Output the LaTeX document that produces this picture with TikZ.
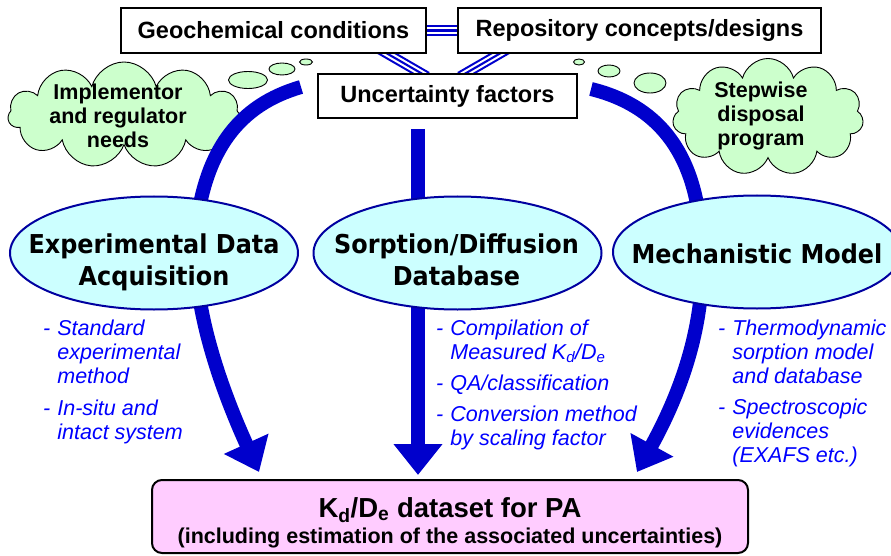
\documentclass[tikz,border=0pt]{standalone}
\usepackage{fontspec}
\setmainfont{Liberation Sans}
\newfontfamily\ellfont[FakeStretch = 0.92]{DejaVu Sans}
\usetikzlibrary{shapes.geometric, shapes.symbols, arrows.meta, backgrounds}
\definecolor{arrowblue}{RGB}{0,0,204}
\definecolor{rimblue}{RGB}{0,0,160}
\definecolor{noteblue}{RGB}{0,0,255}
\definecolor{cyanfill}{RGB}{204,255,255}
\definecolor{cloudfill}{RGB}{204,255,204}
\definecolor{pinkfill}{RGB}{255,204,255}
\tikzset{box/.style = {draw, line width = 2pt, fill = white, inner sep = 0, font = \fontsize{23.5}{28}\selectfont\bfseries}}
\tikzset{thought/.style = {cloud, cloud puffs = 11, cloud ignores aspect, draw, line width = 0.9pt, fill = cloudfill, inner sep = 0}}
\tikzset{thoughttext/.style = {align = center, inner sep = 0, font = \fontsize{21.5}{24}\selectfont\bfseries}}
\tikzset{bubble/.style = {ellipse, draw, line width = 0.9pt, fill = cloudfill, inner sep = 0}}
\tikzset{topic/.style = {ellipse, draw = rimblue, line width = 2pt, fill = cyanfill, inner sep = 0, minimum width = 288pt, minimum height = 113pt}}
\tikzset{topictext/.style = {align = center, inner sep = 0, font = \ellfont\bfseries\fontsize{26}{32}\selectfont}}
\tikzset{triline/.style = {draw = arrowblue, line width = 10.5pt, postaction = {draw = white, line width = 6.3pt}, postaction = {draw = arrowblue, line width = 2.1pt}}}
\tikzset{bigarrow/.style = {draw = arrowblue, line width = 14pt, -{Triangle[length = 31pt, width = 47pt]}}}
\tikzset{note/.style = {anchor = base west, inner sep = 0, text = noteblue, font = \fontsize{21.5}{24}\selectfont\itshape}}

\begin{document}
\begin{tikzpicture}[x = 1pt, y = -1pt]
    \useasboundingbox (0, 0) rectangle (891, 556);

    \node [box, minimum width = 305pt, minimum height = 45pt] (geo) at (273.5, 30.5) {Geochemical conditions};
    \node [box, minimum width = 363pt, minimum height = 45pt] (repo) at (639.5, 30.5) {Repository concepts/designs};
    \node [box, minimum width = 259pt, minimum height = 44pt] (unc) at (447.5, 96) {Uncertainty factors};
    \node [box, rounded corners = 10pt, fill = pinkfill, minimum width = 596pt, minimum height = 73pt] (pa) at (450, 516.5) {};
    \node [anchor = base, inner sep = 0, font = \fontsize{27.5}{30}\selectfont\bfseries] (patitle) at (450, 517) {K\textsubscript{d}/D\textsubscript{e} dataset for PA};
    \node [anchor = base, inner sep = 0, font = \fontsize{21.5}{24}\selectfont\bfseries] (pasub) at (450, 543) {(including estimation of the associated uncertainties)};

    \begin{scope}[on background layer]
        \draw [triline] (geo.east) -- (repo.west);
        \draw [triline] ([xshift = -47pt, yshift = 4.6pt]geo.south east) -- ([xshift = 110pt, yshift = -3.6pt]unc.north west);
        \draw [triline] ([xshift = 50pt, yshift = 4.6pt]repo.south west) -- ([xshift = -118pt, yshift = -3.6pt]unc.north east);
    \end{scope}

    \node [thought, minimum width = 232pt, minimum height = 106pt] (impl) at (124, 115) {};
    \node [bubble, minimum width = 39pt, minimum height = 17pt] (implb1) at (248, 80) {};
    \node [bubble, minimum width = 26pt, minimum height = 12pt] (implb2) at (282, 69) {};
    \node [bubble, minimum width = 13pt, minimum height = 6pt] (implb3) at (306, 62) {};
    \node [thoughttext] (impltext) at (118, 116) {Implementor\\and regulator\\needs};

    \node [thought, minimum width = 191pt, minimum height = 117pt] (stepw) at (768, 117) {};
    \node [bubble, minimum width = 32pt, minimum height = 20pt] (stepwb1) at (650, 83) {};
    \node [bubble, minimum width = 22pt, minimum height = 12pt] (stepwb2) at (609, 71) {};
    \node [bubble, minimum width = 11pt, minimum height = 6pt] (stepwb3) at (579, 62) {};
    \node [thoughttext] (stepwtext) at (761, 116) {Stepwise\\disposal\\program};

    \draw [bigarrow] ([xshift = -16pt, yshift = 9pt]unc.west) .. controls +(-62, 18) and +(9, -80) .. (196, 230)
        .. controls +(-6, 70) and +(-40, -88) .. ([xshift = -191pt, yshift = 7pt]pa.north);
    \draw [bigarrow] ([xshift = -29.5pt, yshift = -10pt]unc.south) -- ([xshift = -32pt, yshift = 4pt]pa.north);
    \draw [bigarrow] ([xshift = 13pt, yshift = 7pt]unc.east) .. controls +(65, 16) and +(-6, -85) .. (701, 235)
        .. controls +(8, 85) and +(43, -78) .. ([xshift = 187pt, yshift = 7pt]pa.north);

    \node [topic] (expt) at (154, 253) {};
    \node [topic] (sorp) at (457.5, 253) {};
    \node [topic] (mech) at (757, 252) {};
    \node [topictext] (expttext) at (154, 262.5) {Experimental Data\\Acquisition};
    \node [topictext] (sorptext) at (456.5, 259.6) {Sorption/Diffusion\\Database};
    \node [topictext] (mechtext) at (757, 254) {Mechanistic Model};

    \node [note] (exptnote) at (43, 335) {\begin{tabular}[t]{@{}l@{\hspace{7pt}}l@{}}
        - & Standard\\ & experimental\\ & method\\[8pt]
        - & In-situ and\\ & intact system
    \end{tabular}};
    \node [note] (sorpnote) at (436, 335) {\begin{tabular}[t]{@{}l@{\hspace{7pt}}l@{}}
        - & Compilation of\\ & Measured K\textsubscript{d}/D\textsubscript{e}\\[7pt]
        - & QA/classification\\[7pt]
        - & Conversion method\\ & by scaling factor
    \end{tabular}};
    \node [note] (mechnote) at (718, 335) {\begin{tabular}[t]{@{}l@{\hspace{7pt}}l@{}}
        - & Thermodynamic\\ & sorption model\\ & and database\\[7pt]
        - & Spectroscopic\\ & evidences\\ & (EXAFS etc.)
    \end{tabular}};
\end{tikzpicture}
\end{document}
